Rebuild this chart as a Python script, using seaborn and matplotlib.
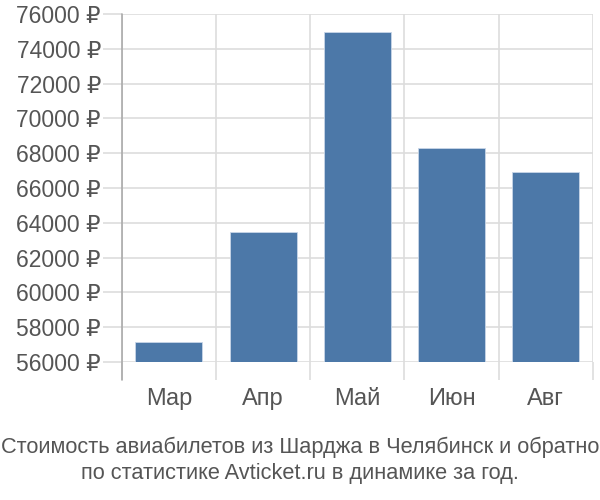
import matplotlib
matplotlib.use("Agg")
import matplotlib.pyplot as plt
import numpy as np
import pandas as pd
import seaborn as sns

# monthly average ticket price, rubles
months = ["Мар", "Апр", "Май", "Июн", "Авг"]
prices = [57150, 63500, 74970, 68300, 66900]
y_ticks = list(range(56000, 76001, 2000))
title_lines = ["Стоимость авиабилетов из Шарджа в Челябинск и обратно",
               "по статистике Avticket.ru в динамике за год."]

sns.set_style("white")
plt.rcParams['font.family'] = ['Liberation Sans', 'DejaVu Sans']

df = pd.DataFrame({"month": months, "price": prices})

fig = plt.figure(figsize=(6, 5), dpi=100)
ax = fig.add_axes([0.203, 0.276, 0.785, 0.696])

sns.barplot(data=df, x="month", y="price", color="#4c78a8", saturation=1,
            width=0.71, edgecolor="#c8d6e8", linewidth=0.6, ax=ax, zorder=3)

ax.set_ylim(56000, 76000)
ax.set_xlim(-0.5, len(months) - 0.5)
ax.set_yticks(y_ticks)
ax.set_yticklabels([f"{v} ₽" for v in y_ticks])

# grid lines between categories, extended below as tick marks
ax.set_xticks(np.arange(-0.5, len(months), 1), minor=True)
ax.grid(which="minor", axis="x", color="#dddddd", linewidth=1.2, zorder=0)
ax.grid(which="major", axis="y", color="#dddddd", linewidth=1.2, zorder=0)
ax.tick_params(axis="x", which="both", bottom=True)
ax.tick_params(axis="y", which="both", left=True)
ax.tick_params(axis="x", which="minor", length=13, width=1.2, color="#dddddd")
ax.tick_params(axis="x", which="major", length=0, pad=19, labelsize=17, labelcolor="#555555")
ax.tick_params(axis="y", which="major", length=14, width=1.2, color="#dddddd",
               pad=1, labelsize=16.5, labelcolor="#555555")

for s in ["top", "right", "bottom", "left"]:
    ax.spines[s].set_visible(False)
ax.plot([0, 0], [-0.052, 1], transform=ax.transAxes, clip_on=False,
        color="#aaaaaa", linewidth=1.2, zorder=4)

ax.set_xlabel("")
ax.set_ylabel("")

fig.text(0.5, 0.106, title_lines[0], ha="center", va="center", fontsize=15.7, color="#555555")
fig.text(0.5, 0.054, title_lines[1], ha="center", va="center", fontsize=15.7, color="#555555")

fig.savefig("out.png", dpi=100)
